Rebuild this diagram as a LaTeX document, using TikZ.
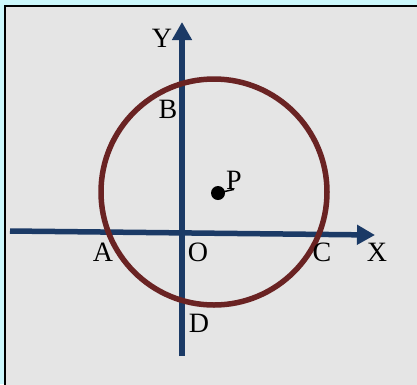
\documentclass[tikz,border=0pt]{standalone}
\usepackage{fontspec}
\setmainfont{Liberation Serif}
\usetikzlibrary{arrows.meta}
\definecolor{axisblue}{HTML}{1B3A66}
\definecolor{ringred}{HTML}{6A2323}
\definecolor{paper}{HTML}{E5E5E5}
\definecolor{edgecyan}{HTML}{CDF8FC}

\begin{document}
\begin{tikzpicture}[x=1pt, y=-1pt,
  lbl/.style={inner sep=0pt, font=\fontsize{28}{30}\selectfont},
  axis/.style={line width=5.5pt, axisblue, -{Triangle[length=18pt, width=19pt]}},
  ring/.style={line width=5.5pt, ringred}
]
  \useasboundingbox (0,0) rectangle (417,384);
  \fill[edgecyan] (0,0) rectangle (417,384);
  \draw[line width=1.5pt, fill=paper] (5,6) rectangle (420,388);

  % axes
  \coordinate (xl) at (10,231);
  \coordinate (xr) at (375,235);
  \coordinate (yb) at (182,356);
  \coordinate (yt) at (182,22);
  \draw[axis] (xl) -- (xr);
  \draw[axis] (yb) -- (yt);

  % circle with centre P
  \coordinate (ctr) at (214,192);
  \draw[ring] (ctr) circle[radius=113];
  \node[circle, fill=black, inner sep=0pt, minimum size=14pt] (p) at (218,193) {};

  \node[lbl] (plbl) at (234,180) {P};
  \draw[line width=1.5pt] (p.center) -- (plbl.south);
  \node[lbl] (y) at (162,38) {Y};
  \node[lbl] (x) at (377,252) {X};
  \node[lbl] (b) at (168,109) {B};
  \node[lbl] (a) at (103,252) {A};
  \node[lbl] (o) at (198,252) {O};
  \node[lbl] (c) at (322,252) {C};
  \node[lbl] (d) at (199,323) {D};
\end{tikzpicture}
\end{document}
